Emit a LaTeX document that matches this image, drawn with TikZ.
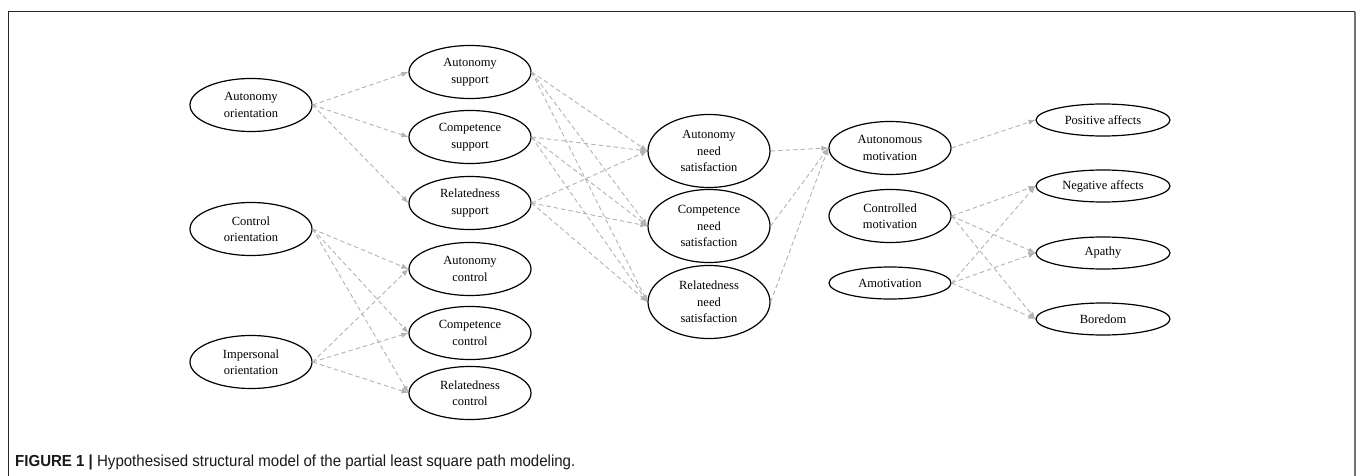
\documentclass[tikz,border=0pt]{standalone}
\usepackage{fontspec}
\setmainfont{Liberation Serif}
\newfontfamily\capfont[FakeStretch=0.94]{Liberation Sans}
\usetikzlibrary{shapes.geometric, arrows.meta}
\tikzset{
  construct/.style={
    ellipse, draw=black, line width=1.2pt, fill=white,
    minimum width=122pt, minimum height=53pt,
    align=center, font=\fontsize{12.5}{16.5}\selectfont, inner sep=0pt,
  },
  need/.style={construct, minimum height=73pt},
  flat/.style={construct, minimum height=32pt},
  outcome/.style={construct, minimum width=134pt, minimum height=32pt},
  link/.style={
    -{Latex[length=7pt, width=5.5pt]}, line width=0.9pt, draw=black!30,
    dash pattern=on 4.5pt off 3pt,
  },
  frame/.style={line width=1pt, draw=black!85},
  figcap/.style={
    anchor=west, inner sep=0pt, text=black!90,
    font=\capfont\fontsize{16}{18}\selectfont,
  }
}

\begin{document}
\begin{tikzpicture}[x=1pt, y=-1pt]

  \useasboundingbox (0,0) rectangle (1357,476);
  \draw[frame] (8,476) -- (8,12) -- (1355,12);
  \draw[frame, draw=black!55, line width=1.6pt] (1355,12) -- (1355,476);

  % orientations
  \node[construct] (autor)  at (251, 105) {Autonomy\\orientation};
  \node[construct] (ctlor)  at (251, 229) {Control\\orientation};
  \node[construct] (impor)  at (251, 362) {Impersonal\\orientation};

  % support and control
  \node[construct] (autsup)  at (470, 72)  {Autonomy\\support};
  \node[construct] (compsup) at (470, 137) {Competence\\support};
  \node[construct] (relsup)  at (470, 203) {Relatedness\\support};
  \node[construct] (autctl)  at (470, 269) {Autonomy\\control};
  \node[construct] (compctl) at (470, 333) {Competence\\control};
  \node[construct] (relctl)  at (470, 393) {Relatedness\\control};

  % needs
  \node[need] (autneed)  at (709, 151) {Autonomy\\need\\satisfaction};
  \node[need] (compneed) at (709, 226) {Competence\\need\\satisfaction};
  \node[need] (relneed)  at (709, 302) {Relatedness\\need\\satisfaction};

  % motivations
  \node[construct] (autmot) at (890, 148) {Autonomous\\motivation};
  \node[construct] (ctlmot) at (890, 216) {Controlled\\motivation};
  \node[flat]      (amot)   at (890, 283) {Amotivation};

  % outcomes
  \node[outcome] (posaff)  at (1103, 120) {Positive affects};
  \node[outcome] (negaff)  at (1103, 186) {Negative affects};
  \node[outcome] (apathy)  at (1103, 253) {Apathy};
  \node[outcome] (boredom) at (1103, 319) {Boredom};

  \draw[link] (autor.east) -- (autsup.west);
  \draw[link] (autor.east) -- (compsup.west);
  \draw[link] (autor.east) -- (relsup.west);

  \draw[link] (ctlor.east) -- (autctl.west);
  \draw[link] (ctlor.east) -- (compctl.west);
  \draw[link] (ctlor.east) -- (relctl.west);
  \draw[link] (impor.east) -- (autctl.west);
  \draw[link] (impor.east) -- (compctl.west);
  \draw[link] (impor.east) -- (relctl.west);

  \draw[link] (autsup.east)  -- (autneed.west);
  \draw[link] (autsup.east)  -- (compneed.west);
  \draw[link] (autsup.east)  -- (relneed.west);
  \draw[link] (compsup.east) -- (autneed.west);
  \draw[link] (compsup.east) -- (compneed.west);
  \draw[link] (compsup.east) -- (relneed.west);
  \draw[link] (relsup.east)  -- (autneed.west);
  \draw[link] (relsup.east)  -- (compneed.west);
  \draw[link] (relsup.east)  -- (relneed.west);

  \draw[link] (autneed.east)  -- (autmot.west);
  \draw[link] (compneed.east) -- (autmot.west);
  \draw[link] (relneed.east)  -- (autmot.west);

  \draw[link] (autmot.east) -- (posaff.west);
  \draw[link] (ctlmot.east) -- (negaff.west);
  \draw[link] (ctlmot.east) -- (apathy.west);
  \draw[link] (ctlmot.east) -- (boredom.west);
  \draw[link] (amot.east)   -- (negaff.west);
  \draw[link] (amot.east)   -- (apathy.west);
  \draw[link] (amot.east)   -- (boredom.west);

  \node[figcap] (cap) at (15, 462)
    {\textbf{FIGURE 1 |} Hypothesised structural model of the partial least square path modeling.};

\end{tikzpicture}
\end{document}
